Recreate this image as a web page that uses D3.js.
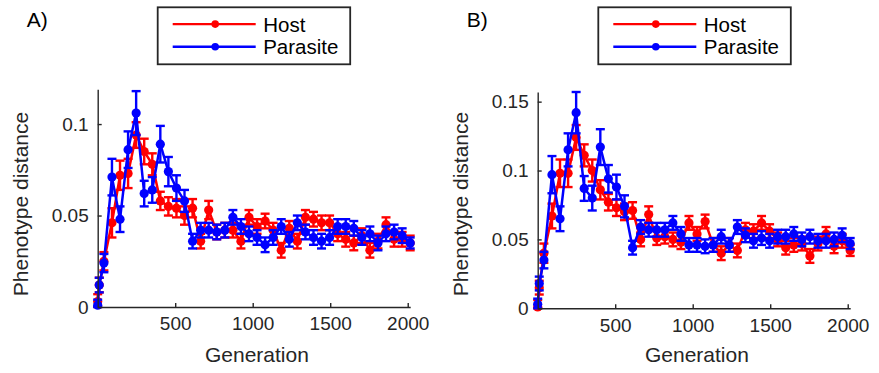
<!DOCTYPE html>
<html>
<head>
<meta charset="utf-8">
<script src="https://cdn.jsdelivr.net/npm/d3@7"></script>
<style>
  body { margin: 0; background: #fff; }
  svg { display: block; }
  text { font-family: "Liberation Sans", Arial, sans-serif; }
</style>
</head>
<body>
<svg id="chart" width="879" height="373"></svg>
<script>
const generations = [0, 10, 40, 92, 144, 196, 248, 300, 352, 404, 456, 508, 560, 612, 664, 716, 768, 820, 872, 924,
  976, 1028, 1080, 1132, 1184, 1236, 1288, 1340, 1392, 1444, 1496, 1548, 1600, 1652, 1704, 1756, 1808, 1860, 1912, 1964, 2016];

const seriesNames = ["Host", "Parasite"];
const seriesColors = ["#ff0000", "#0000ff"];
const panelLabels = ["A)", "B)"];

const xTicks = [500, 1000, 1500, 2000];
const yTicksA = [0, 0.05, 0.1];
const yTicksB = [0, 0.05, 0.1, 0.15];

// panel A
const hostA = [0.003, 0.012, 0.025, 0.046, 0.072, 0.073, 0.094, 0.085, 0.078, 0.058, 0.055, 0.054, 0.050, 0.054, 0.036, 0.053,
  0.041, 0.042, 0.042, 0.036, 0.049, 0.044, 0.047, 0.042, 0.031, 0.043, 0.036, 0.049, 0.048, 0.046, 0.046, 0.040, 0.037,
  0.035, 0.039, 0.031, 0.036, 0.045, 0.037, 0.037, 0.035];
const hostErrA = [0.004, 0.004, 0.005, 0.008, 0.008, 0.008, 0.007, 0.007, 0.006, 0.005, 0.005, 0.005, 0.005, 0.005, 0.004, 0.005,
  0.004, 0.004, 0.004, 0.004, 0.004, 0.004, 0.004, 0.004, 0.004, 0.004, 0.004, 0.004, 0.004, 0.004, 0.004, 0.004, 0.004,
  0.004, 0.004, 0.004, 0.004, 0.004, 0.004, 0.004, 0.004];
const parasiteA = [0.001, 0.012, 0.024, 0.071, 0.048, 0.086, 0.106, 0.062, 0.064, 0.089, 0.074, 0.065, 0.058, 0.036, 0.042, 0.042,
  0.041, 0.042, 0.049, 0.044, 0.040, 0.038, 0.034, 0.038, 0.044, 0.037, 0.046, 0.041, 0.038, 0.036, 0.038, 0.044, 0.044,
  0.043, 0.038, 0.040, 0.035, 0.040, 0.041, 0.039, 0.035];
const parasiteErrA = [0.003, 0.004, 0.005, 0.010, 0.007, 0.010, 0.012, 0.007, 0.007, 0.010, 0.008, 0.007, 0.006, 0.004, 0.004, 0.004,
  0.004, 0.004, 0.004, 0.004, 0.004, 0.004, 0.004, 0.004, 0.004, 0.004, 0.004, 0.004, 0.004, 0.004, 0.004, 0.004, 0.004,
  0.004, 0.004, 0.004, 0.004, 0.004, 0.004, 0.004, 0.003];

// panel B
const hostB = [0.001, 0.015, 0.040, 0.067, 0.098, 0.098, 0.124, 0.111, 0.100, 0.086, 0.077, 0.073, 0.070, 0.071, 0.050, 0.068,
  0.051, 0.052, 0.050, 0.048, 0.062, 0.054, 0.063, 0.046, 0.040, 0.046, 0.042, 0.057, 0.056, 0.062, 0.056, 0.050, 0.044,
  0.046, 0.047, 0.038, 0.047, 0.054, 0.045, 0.049, 0.042];
const hostErrB = [0.005, 0.005, 0.007, 0.009, 0.010, 0.010, 0.009, 0.008, 0.008, 0.007, 0.006, 0.006, 0.006, 0.006, 0.005, 0.006,
  0.005, 0.005, 0.005, 0.005, 0.005, 0.005, 0.005, 0.005, 0.005, 0.005, 0.005, 0.005, 0.005, 0.005, 0.005, 0.005, 0.005,
  0.005, 0.005, 0.005, 0.005, 0.005, 0.005, 0.005, 0.004];
const parasiteB = [0.003, 0.018, 0.035, 0.097, 0.065, 0.115, 0.142, 0.087, 0.080, 0.117, 0.094, 0.088, 0.074, 0.044, 0.059, 0.057,
  0.057, 0.057, 0.062, 0.054, 0.046, 0.046, 0.045, 0.046, 0.052, 0.046, 0.059, 0.053, 0.049, 0.051, 0.049, 0.052, 0.052,
  0.054, 0.050, 0.052, 0.049, 0.049, 0.050, 0.053, 0.047];
const parasiteErrB = [0.004, 0.005, 0.006, 0.0135, 0.009, 0.012, 0.015, 0.009, 0.009, 0.013, 0.010, 0.009, 0.008, 0.005, 0.005, 0.005,
  0.005, 0.005, 0.005, 0.005, 0.005, 0.005, 0.005, 0.005, 0.005, 0.005, 0.005, 0.005, 0.005, 0.005, 0.005, 0.005, 0.005,
  0.005, 0.005, 0.005, 0.005, 0.005, 0.005, 0.005, 0.004];

const svg = d3.select("#chart");
const axisColor = "#262626";

const panels = [
  { label: panelLabels[0], series: [[hostA, hostErrA], [parasiteA, parasiteErrA]], yTicks: yTicksA, yMax: 0.119,
    left: 97.7, right: 410.2, top: 89.3, bottom: 307, legendX: 157.7 },
  { label: panelLabels[1], series: [[hostB, hostErrB], [parasiteB, parasiteErrB]], yTicks: yTicksB, yMax: 0.157,
    left: 537.7, right: 850.2, top: 92, bottom: 308.3, legendX: 598.3 }
];

function drawPanel(p) {
  const g = svg.append("g");

  const x = d3.scaleLinear().domain([0, 2016]).range([p.left, p.right]);
  const y = d3.scaleLinear().domain([0, p.yMax]).range([p.bottom, p.top]);

  // error bars + lines + markers, host first so parasite sits on top
  p.series.forEach(([vals, errs], si) => {
    const color = seriesColors[si];
    const pts = generations.map((gen, i) => ({ gen, v: vals[i], e: errs[i] }));
    const s = g.append("g");
    const lo = d => y(Math.max(0, d.v - d.e));
    const hi = d => y(d.v + d.e);

    const eb = s.selectAll(".eb").data(pts).enter().append("g")
      .attr("stroke", color).attr("stroke-width", 2.4).attr("fill", "none");
    eb.append("line")
      .attr("x1", d => x(d.gen)).attr("x2", d => x(d.gen))
      .attr("y1", lo).attr("y2", hi);
    eb.append("line")
      .attr("x1", d => x(d.gen) - 4.5).attr("x2", d => x(d.gen) + 4.5)
      .attr("y1", hi).attr("y2", hi);
    eb.append("line")
      .attr("x1", d => x(d.gen) - 4.5).attr("x2", d => x(d.gen) + 4.5)
      .attr("y1", lo).attr("y2", lo);

    s.append("path")
      .datum(pts)
      .attr("fill", "none")
      .attr("stroke", color)
      .attr("stroke-width", 2.5)
      .attr("d", d3.line().x(d => x(d.gen)).y(d => y(d.v)));

    s.selectAll("circle").data(pts).enter().append("circle")
      .attr("cx", d => x(d.gen)).attr("cy", d => y(d.v))
      .attr("r", 4.6).attr("fill", color);
  });

  // axes, MATLAB style (ticks pointing inward, no box)
  const xAxis = d3.axisBottom(x).tickValues(xTicks).tickSize(-4).tickSizeOuter(0).tickPadding(10)
    .tickFormat(d => String(d));
  const yAxis = d3.axisLeft(y).tickValues(p.yTicks).tickSize(-4).tickSizeOuter(0).tickPadding(9)
    .tickFormat(d => String(d));

  const gx = g.append("g").attr("transform", `translate(0,${p.bottom})`).call(xAxis);
  const gy = g.append("g").attr("transform", `translate(${p.left},0)`).call(yAxis);
  [gx, gy].forEach(a => {
    a.select(".domain").attr("stroke", axisColor).attr("stroke-width", 1.4);
    a.selectAll(".tick line").attr("stroke", axisColor).attr("stroke-width", 1.4);
    a.selectAll(".tick text").attr("fill", axisColor).attr("font-size", 19)
      .attr("font-family", '"Liberation Sans", Arial, sans-serif');
  });

  g.append("text")
    .attr("x", (p.left + p.right) / 2 + 3).attr("y", 362)
    .attr("text-anchor", "middle").attr("font-size", 21).attr("fill", axisColor)
    .text("Generation");

  g.append("text")
    .attr("transform", `translate(${p.left - 70},204) rotate(-90)`)
    .attr("text-anchor", "middle").attr("font-size", 21).attr("fill", axisColor)
    .text("Phenotype distance");

  g.append("text")
    .attr("x", p.left - 71).attr("y", 27)
    .attr("font-size", 21).attr("fill", "#000")
    .text(p.label);

  // legend
  const lg = g.append("g").attr("transform", `translate(${p.legendX},7.3)`);
  lg.append("rect")
    .attr("width", 192.5).attr("height", 57)
    .attr("fill", "#fff").attr("stroke", axisColor).attr("stroke-width", 1.8);
  seriesNames.forEach((name, i) => {
    const ly = 16.8 + i * 22.7;
    lg.append("line").attr("x1", 15).attr("x2", 98).attr("y1", ly).attr("y2", ly)
      .attr("stroke", seriesColors[i]).attr("stroke-width", 2.4);
    lg.append("circle").attr("cx", 57.5).attr("cy", ly).attr("r", 3.8).attr("fill", seriesColors[i]);
    lg.append("text").attr("x", 105.5).attr("y", ly + 7.6)
      .attr("font-size", 20.5).attr("fill", "#000").text(name);
  });
}

panels.forEach(drawPanel);
</script>
</body>
</html>
